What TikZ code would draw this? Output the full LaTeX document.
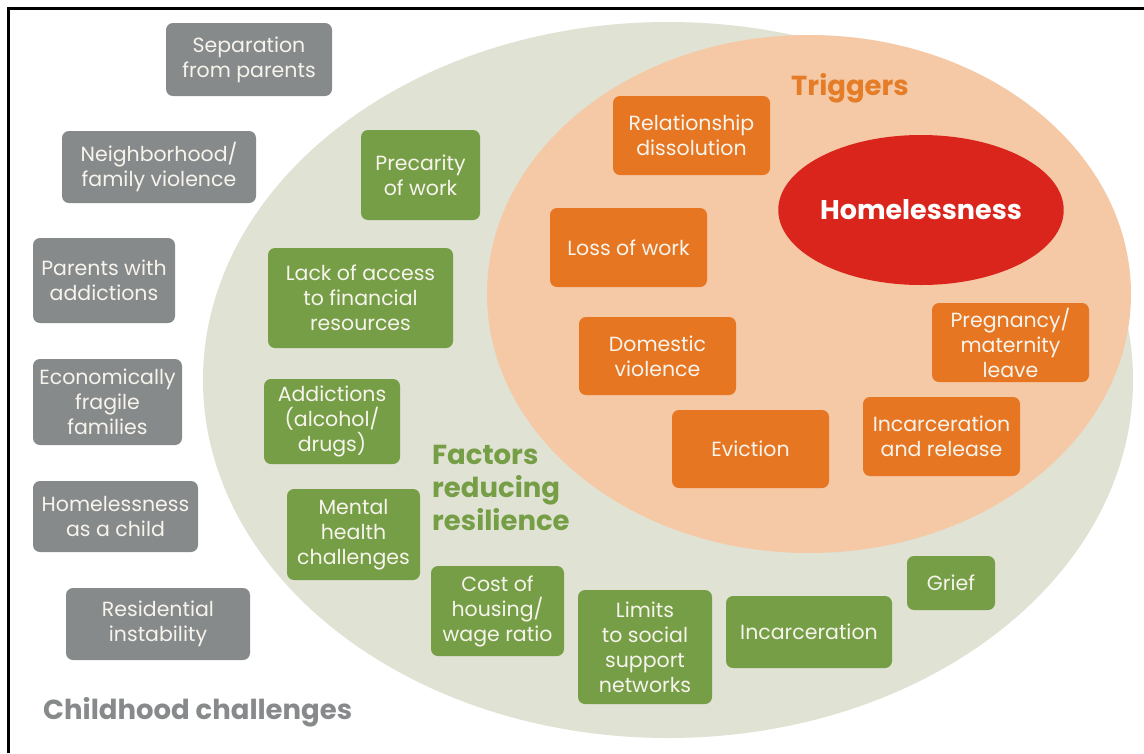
\documentclass[tikz,border=0pt]{standalone}
\usepackage{fontspec}
\usetikzlibrary{shapes.geometric}
\setmainfont{Poppins}
\definecolor{cgray}{RGB}{135,138,139}
\definecolor{cgreen}{RGB}{118,158,70}
\definecolor{cellg}{RGB}{224,226,212}
\definecolor{cpeach}{RGB}{245,201,166}
\definecolor{corange}{RGB}{231,118,34}
\definecolor{cred}{RGB}{218,37,29}
\definecolor{ctrig}{RGB}{229,125,40}
\definecolor{ctext}{RGB}{246,244,236}
\tikzset{
  boxbase/.style={rounded corners=7pt, inner sep=0pt, align=center, text=ctext,
    font=\fontsize{20.5}{25}\selectfont},
  graybox/.style={boxbase, fill=cgray},
  greenbox/.style={boxbase, fill=cgreen},
  orangebox/.style={boxbase, fill=corange},
  title/.style={inner sep=0pt, font=\fontsize{27.5}{33}\selectfont\bfseries, align=left}
}
\begin{document}
\begin{tikzpicture}[x=1pt,y=-1pt]
\useasboundingbox (0,0) rectangle (1144,753);
\fill[white] (0,0) rectangle (1144,753);
% ellipses
\fill[cellg] (668,380) ellipse [x radius=465, y radius=358];
\fill[cpeach] (809,294) ellipse [x radius=322, y radius=259];
\node[ellipse, fill=cred, minimum width=278pt, minimum height=150pt, inner sep=0pt,
  text=white, font=\fontsize{27}{30}\selectfont\bfseries] (homeless) at (921,210) {Homelessness};
% frame
\draw[line width=3pt, black] (8.5,753) -- (8.5,8.5) -- (1144,8.5);
% childhood challenges
\node[graybox, minimum width=166pt, minimum height=73pt] (sep) at (249,59.5) {Separation\\from parents};
\node[graybox, minimum width=194pt, minimum height=72pt] (nbh) at (159,167) {Neighborhood/\\family violence};
\node[graybox, minimum width=142pt, minimum height=85pt] (par) at (104,280.5) {Parents with\\addictions};
\node[graybox, minimum width=149pt, minimum height=86pt] (eco) at (107.5,402) {Economically\\fragile\\families};
\node[graybox, minimum width=165pt, minimum height=71pt] (hom) at (115.5,516.5) {Homelessness\\as a child};
\node[graybox, minimum width=184pt, minimum height=72pt] (res) at (158,624) {Residential\\instability};
\node[title, text=cgray, anchor=base west] (cc) at (43,719) {Childhood challenges};
% factors reducing resilience
\node[greenbox, minimum width=119pt, minimum height=90pt] (pre) at (420.5,175) {Precarity\\of work};
\node[greenbox, minimum width=185pt, minimum height=100pt] (lack) at (360.5,298) {Lack of access\\to financial\\resources};
\node[greenbox, minimum width=136pt, minimum height=85pt] (addi) at (332,421.5) {Addictions\\(alcohol/\\drugs)};
\node[greenbox, minimum width=133pt, minimum height=91pt] (men) at (353.5,534.5) {Mental\\health\\challenges};
\node[greenbox, minimum width=133pt, minimum height=90pt] (cost) at (497.5,611) {Cost of\\housing/\\wage ratio};
\node[greenbox, minimum width=134pt, minimum height=114pt] (lim) at (645,647) {Limits\\to social\\support\\networks};
\node[greenbox, minimum width=166pt, minimum height=72pt] (inc) at (809,632) {Incarceration};
\node[greenbox, minimum width=88pt, minimum height=54pt] (grief) at (951,583) {Grief};
\node[title, text=cgreen, anchor=north west] (frr) at (432,445) {Factors\\reducing\\resilience};
% triggers
\node[orangebox, minimum width=157pt, minimum height=79pt] (rel) at (691.5,135.5) {Relationship\\dissolution};
\node[orangebox, minimum width=157pt, minimum height=79pt] (loss) at (628.5,247.5) {Loss of work};
\node[orangebox, minimum width=157pt, minimum height=78pt] (dom) at (657.5,356) {Domestic\\violence};
\node[orangebox, minimum width=157pt, minimum height=78pt] (evi) at (750.5,449) {Eviction};
\node[orangebox, minimum width=157pt, minimum height=79pt] (preg) at (1010.5,342.5) {Pregnancy/\\maternity\\leave};
\node[orangebox, minimum width=157pt, minimum height=79pt] (incr) at (941.5,436.5) {Incarceration\\and release};
\node[title, text=ctrig, anchor=base] (trig) at (850,95) {Triggers};
\end{tikzpicture}
\end{document}
